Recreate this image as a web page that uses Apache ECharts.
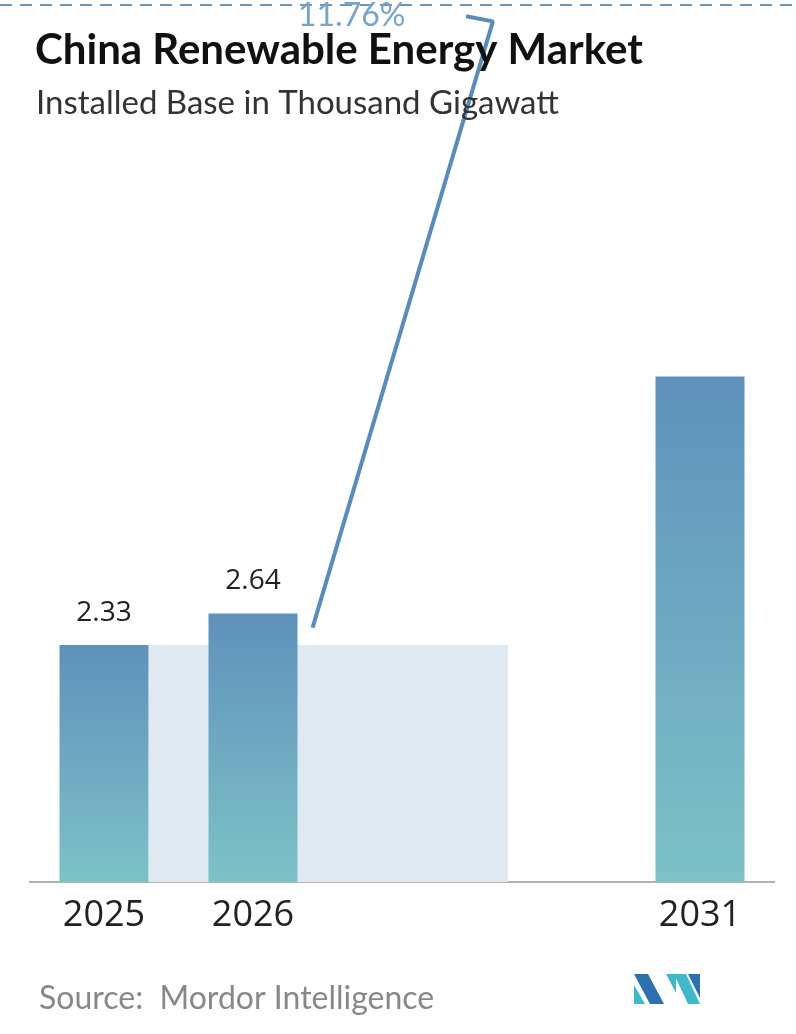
<!DOCTYPE html>
<html>
<head>
<meta charset="UTF-8">
<script src="https://cdn.jsdelivr.net/npm/echarts@6/dist/echarts.min.js"></script>
<style>body{margin:0;background:#fff}#main{width:796px;height:1034px}</style>
</head>
<body>
<div id="main"></div>
<script>
var categories = ['2025', '2026', '', '', '2031'];
var values = [2.33, 2.64, null, null, 4.97];
var labels = ['2.33', '2.64', '', '', ''];
// light band behind the first bars: [xStart, xEnd, height] on the hidden value axis
var band = [[0.80, 3.21, 2.33]];
// CAGR arrow on the hidden value axis
var arrowLine = [[1.90, 2.50], [3.11, 8.46], [2.93, 8.51]];
var cagr = '11.76%';

var chart = echarts.init(document.getElementById('main'));
var grad = new echarts.graphic.LinearGradient(0, 0, 0, 1, [
    {offset: 0, color: '#5f91bb'},
    {offset: 1, color: '#7dc2c7'}
]);
chart.setOption({
    animation: false,
    grid: {left: 29.5, right: 21.5, top: 0, bottom: 152},
    title: [{
        text: 'China Renewable Energy Market', left: 30, top: 24,
        textStyle: {fontFamily: 'Lato', fontSize: 42, fontWeight: 'bold', color: '#111'}
    }, {
        text: 'Installed Base in Thousand Gigawatt', left: 31, top: 82,
        textStyle: {fontFamily: 'Lato', fontSize: 33, fontWeight: 'normal', color: '#333'}
    }, {
        text: 'Source:  Mordor Intelligence', left: 34, top: 978,
        textStyle: {fontFamily: 'Lato', fontSize: 32, fontWeight: 'normal', color: '#888'}
    }],
    xAxis: [{
        type: 'category', data: categories,
        axisLine: {lineStyle: {color: '#999', width: 1.5}},
        axisTick: {show: false},
        axisLabel: {fontFamily: 'Open Sans', fontSize: 36, color: '#222', margin: 16}
    }, {
        type: 'value', min: 0, max: 5, show: false
    }],
    yAxis: {type: 'value', min: 0, max: 8.67, show: false},
    series: [{
        type: 'custom', xAxisIndex: 1, z: 1,
        data: band,
        renderItem: function (params, api) {
            var p0 = api.coord([api.value(0), api.value(2)]);
            var p1 = api.coord([api.value(1), 0]);
            return {type: 'rect', shape: {x: p0[0], y: p0[1], width: p1[0] - p0[0], height: p1[1] - p0[1]},
                style: {fill: '#dfe9f1'}};
        }
    }, {
        type: 'bar', data: values, barWidth: 89, z: 2,
        itemStyle: {color: grad},
        label: {show: true, position: 'top', distance: 18, fontFamily: 'Open Sans', fontSize: 28, fontWeight: 500, color: '#222',
            formatter: function (p) { return labels[p.dataIndex]; }}
    }, {
        type: 'line', xAxisIndex: 1, data: arrowLine, symbol: 'none', z: 3,
        lineStyle: {color: '#5b8cb7', width: 4}
    }],
    graphic: [{
        type: 'line', shape: {x1: 0, y1: 5, x2: 796, y2: 5},
        style: {stroke: '#6a96bf', lineWidth: 2, lineDash: [12, 8]}
    }, {
        type: 'text', left: 298, top: 0, z: 0,
        style: {text: cagr, fontFamily: 'Lato', fontSize: 32, fill: '#7aa3c8'}
    }, {
        type: 'polygon', shape: {points: [[634, 974], [648, 974], [664, 1004], [650, 1004]]}, style: {fill: '#2e6fae'}
    }, {
        type: 'polygon', shape: {points: [[634, 985], [645, 1004], [634, 1004]]}, style: {fill: '#3fb8c9'}
    }, {
        type: 'polygon', shape: {points: [[666, 974], [676, 974], [676, 993]]}, style: {fill: '#3fb8c9'}
    }, {
        type: 'polygon', shape: {points: [[674, 974], [686, 974], [700, 1004], [688, 1004]]}, style: {fill: '#3fb8c9'}
    }, {
        type: 'polygon', shape: {points: [[688, 974], [700, 974], [700, 998]]}, style: {fill: '#2e6fae'}
    }]
});
</script>
</body>
</html>
